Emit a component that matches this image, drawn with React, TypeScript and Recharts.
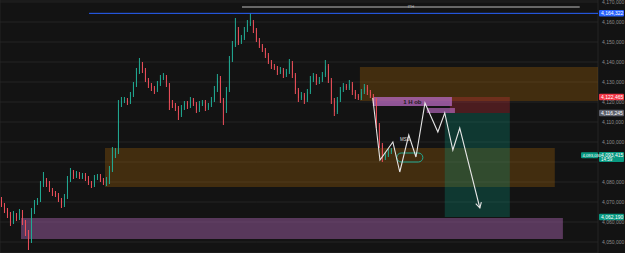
import React from 'react'
import { Bar, CartesianGrid, ComposedChart, Line, ReferenceArea, ReferenceDot, ReferenceLine, XAxis, YAxis } from 'recharts'

// prices are in thousands (4121 = 4,121,000), time is in bars

const firstOpen = 4071

const closes = [
    4068.5, 4066, 4063.5, 4060, 4063.5, 4062, 4065, 4060, 4055, 4051,
    4065, 4069.5, 4071, 4078.5, 4081, 4079, 4076, 4074.5, 4073.5, 4071,
    4068.5, 4072.5, 4081, 4085, 4083, 4084, 4082.5, 4083.5, 4082, 4079.5,
    4078.5, 4082, 4083, 4081, 4079.5, 4081, 4086, 4093.5, 4095, 4119,
    4120.5, 4121, 4120, 4123.5, 4128.5, 4135, 4139, 4136, 4131, 4128.5,
    4127, 4126, 4129, 4132, 4132.5, 4128.5, 4119.5, 4118.5, 4117, 4113.5,
    4117, 4119.5, 4118, 4121, 4119, 4116, 4119, 4120, 4117, 4118.5,
    4121, 4126, 4132, 4121, 4116, 4126, 4141, 4148.5, 4156, 4150,
    4152, 4156, 4159, 4160, 4156, 4151, 4148, 4146, 4143.5, 4140,
    4138, 4137, 4135, 4136, 4133.5, 4135, 4139.5, 4133.5, 4126, 4122,
    4123.5, 4121, 4125, 4131, 4133, 4130, 4131, 4133.5, 4138, 4131,
    4121, 4115, 4121, 4126, 4128, 4127, 4129, 4125, 4123, 4122,
    4125, 4127.5, 4125, 4123, 4121, 4108.5, 4098.5, 4092, 4093.5, 4095,
    4096,
]

const wickUp = [
    1.5, 1, 1, 1.5, 2, 1, 1.5, 1, 1, 1,
    2, 1.5, 1, 2, 4, 1, 1.5, 1, 1, 1,
    1, 1.5, 2, 2, 1, 1.5, 1, 1, 1, 1,
    1, 1.5, 1, 1, 1, 1.5, 2, 4, 2, 2,
    2, 1.5, 1, 1.5, 1.5, 2, 3, 1, 1, 1,
    1, 1, 1.5, 1.5, 2, 1, 1, 1.5, 1, 1,
    1.5, 1, 1, 1.5, 1, 1, 1.5, 1, 1, 1,
    1.5, 2, 2, 1, 1, 1.5, 2, 2, 6, 1.5,
    1.5, 1.5, 2, 4.3, 1, 1, 1, 1, 1, 1,
    1, 1, 1, 1.5, 1, 1.5, 2, 1, 1, 1,
    1.5, 1, 1.5, 2, 1.5, 1, 1.5, 1.5, 3, 1,
    1, 1, 1.5, 1.5, 1.5, 1, 2, 1, 1, 1,
    1.5, 1.5, 1, 1, 1, 1, 1, 1, 1.5, 1.5,
    1,
]

const wickDown = [
    1, 1.5, 1.5, 2, 1, 1.5, 1, 1.5, 2, 5,
    1.5, 1, 1, 1, 1, 1.5, 1, 1.5, 1, 1,
    1.5, 1, 1, 1, 1.5, 1, 1, 1, 1.5, 1,
    1.5, 1, 1, 1, 1, 1.5, 2, 1, 1.5, 1,
    1.5, 1, 1.5, 1, 1, 1, 1, 1.5, 1, 1.5,
    1.5, 2, 1, 1, 1, 1, 3.5, 1.5, 1.5, 2.5,
    1, 1, 1.5, 1, 1, 1.5, 1, 1, 1.5, 1,
    1, 1, 1, 1.5, 7.5, 1.5, 1, 1, 1, 1.5,
    1, 1, 1, 1, 1.5, 1, 1, 1, 1.5, 1,
    1.5, 1, 1.5, 1, 1.5, 1, 1, 1.5, 2, 2,
    1, 2, 1, 1, 1, 1.5, 1, 1, 1, 1.5,
    2, 2, 1, 1, 1, 1, 1, 1.5, 1.5, 1,
    1, 1, 1.5, 1, 1.5, 1.5, 1.5, 2, 1, 1,
    1,
]

// projected path (drawn by hand on the original)
const projT = [123.8, 126.2, 130.5, 132.8, 135.8, 138.2, 141.2, 145.5, 147.8, 150.5, 152.8, 159.5]
const projPrice = [4122, 4091, 4100, 4085, 4103.5, 4092.5, 4119.5, 4105, 4114.5, 4096, 4107, 4067]

// session boundaries (vertical grid)
const sessionTicks = [6.5, 15.5, 22.5, 29.8, 38.8, 47.5, 56.5, 63.8, 74.2, 83.2, 90.5, 98.2, 107.2, 115.8, 124.5, 133.5, 142.2, 151.2, 160.2, 169.2, 178.2, 187.2, 196.2]
const priceTicks = [4050, 4060, 4070, 4080, 4090, 4100, 4110, 4120, 4130, 4140, 4150, 4160, 4170]
// tick labels hidden behind the price tags
const coveredTicks = [4090]

const zones = [
    { id: 'supply', t1: 119.5, t2: 198.9, p1: 4120.5, p2: 4137.5, fill: '#ff9800', op: 0.2 },
    { id: 'demand', t1: 34.5, t2: 184.5, p1: 4077.5, p2: 4097, fill: '#ff9800', op: 0.2 },
    { id: 'low', t1: 6.5, t2: 187.2, p1: 4051.5, p2: 4062, fill: '#b86bbf', op: 0.42 },
    { id: 'stop', t1: 149.5, t2: 169.5, p1: 4114.5, p2: 4122.5, fill: '#f23645', op: 0.25 },
    { id: 'target', t1: 147.8, t2: 169.5, p1: 4062.5, p2: 4114.5, fill: '#089981', op: 0.28 },
    { id: 'ob2', t1: 141.8, t2: 151.2, p1: 4114.5, p2: 4117, fill: '#b065b8', op: 0.7 },
]

const priceTags = [
    { price: 4164.322, text: '4,164,322', color: '#2962ff', sub: '' },
    { price: 4122.5, text: '4,122,465', color: '#f23645', sub: '' },
    { price: 4114.5, text: '4,116,245', color: '#5d606b', sub: '' },
    { price: 4093.4, text: '4,093,415', color: '#089981', sub: '14:59' },
    { price: 4062.5, text: '4,062,190', color: '#089981', sub: '' },
]

const GREEN = '#22ab94'
const RED = '#f0505c'
const FONT = '"Liberation Sans", Arial, sans-serif'

const candles = closes.map((close, i) => {
    const open = i === 0 ? firstOpen : closes[i - 1]
    const high = Math.max(open, close) + wickUp[i]
    const low = Math.min(open, close) - wickDown[i]
    return { t: i, open, close, high, low, range: [low, high] }
})

const projection = projT.map((t, i) => ({ t, p: projPrice[i] }))

const Candle = (props: any) => {
    const { x, y, width, height, payload } = props
    if (!payload || height == null) return <g />
    const top = Math.min(y, y + height)
    const h = Math.abs(height)
    const { open, close, high, low } = payload
    const py = (v: number) => top + ((high - v) / (high - low)) * h
    const color = close >= open ? GREEN : RED
    const cx = x + width / 2
    const bTop = py(Math.max(open, close))
    const bBot = py(Math.min(open, close))
    return (
        <g>
            <line x1={cx} x2={cx} y1={top} y2={top + h} stroke={color} strokeWidth={1} />
            <rect x={x} y={bTop} width={width} height={Math.max(bBot - bTop, 1)} fill={color} />
        </g>
    )
}

const ArrowDot = (props: any) => {
    const { cx, cy, index, points } = props
    if (index !== projT.length - 1 || cx == null) return <g key={`d${index}`} />
    const prev = points && points[index - 1]
    const ang = prev ? Math.atan2(cy - prev.y, cx - prev.x) : 1.3
    const len = 6
    const a1 = ang + Math.PI - 0.5
    const a2 = ang + Math.PI + 0.5
    return (
        <path key={`d${index}`}
            d={`M${cx + len * Math.cos(a1)},${cy + len * Math.sin(a1)} L${cx},${cy} L${cx + len * Math.cos(a2)},${cy + len * Math.sin(a2)}`}
            stroke='#e6e6e6' strokeWidth={1.1} fill='none' />
    )
}

const PriceTick = (props: any) => {
    const { x, y, payload } = props
    if (coveredTicks.includes(payload.value)) return <g />
    return (
        <text x={x} y={y + 1.6} fontSize={5} fill='#8c8c8c' fontFamily={FONT}>
            {(payload.value * 1000).toLocaleString('en-US')}
        </text>
    )
}

const PriceTag = (props: any) => {
    const { viewBox, text, color, sub } = props
    if (!viewBox) return null
    const x = viewBox.x + viewBox.width
    const y = viewBox.y
    const h = sub ? 10 : 6.5
    return (
        <g>
            <rect x={x + 1} y={y - 3.3} width={25} height={h} rx={1} fill={color} />
            <text x={x + 3} y={y + 1.8} fontSize={5} fill='#ffffff' fontFamily={FONT}>{text}</text>
            {sub && <text x={x + 3} y={y + 5.8} fontSize={4.5} fill='#ffffff' fontFamily={FONT}>{sub}</text>}
        </g>
    )
}

const BidTag = (props: any) => {
    const { viewBox } = props
    if (!viewBox) return null
    const x = viewBox.x + viewBox.width
    const y = viewBox.y
    return (
        <g>
            <rect x={x - 17} y={y - 3} width={17} height={6} rx={1} fill='#089981' />
            <text x={x - 15.5} y={y + 1.7} fontSize={4.2} fill='#ffffff' fontFamily={FONT}>4,093,030</text>
        </g>
    )
}

const Pill = (props: any) => {
    const { x, y, width, height } = props
    return <rect x={x} y={y} width={width} height={height} rx={height / 2} ry={height / 2} fill='none' stroke={GREEN} strokeWidth={1} />
}

export default function App() {
    return (
        <div style={{ position: 'fixed', left: 0, top: 0, width: 625, height: 253, background: '#131313', overflow: 'hidden' }}>
            <ComposedChart width={625} height={253} data={candles} margin={{ top: 0, right: 0, bottom: 0, left: 0 }}>
                <CartesianGrid stroke='#2a2a2a' strokeWidth={0.8} />
                <XAxis dataKey='t' type='number' domain={[-0.5, 198.9]} ticks={sessionTicks} allowDataOverflow
                    height={0} tick={false} axisLine={false} tickLine={false} />
                <YAxis orientation='right' width={27} type='number' domain={[4044.5, 4171]} ticks={priceTicks} allowDataOverflow interval={0}
                    axisLine={false} tickLine={false} tickSize={2} tickMargin={2} tick={<PriceTick />} />

                {zones.map(z => (
                    <ReferenceArea key={z.id} x1={z.t1} x2={z.t2} y1={z.p1} y2={z.p2} fill={z.fill} fillOpacity={z.op} stroke='none' ifOverflow='hidden' />
                ))}
                <ReferenceArea x1={123.8} x2={150.2} y1={4118} y2={4122.5} fill='#b065b8' fillOpacity={0.8} stroke='none'
                    label={{ value: '1 H ob', position: 'center', fill: '#1c1c1c', fontSize: 6, fontWeight: 700, fontFamily: FONT }} />

                <Bar dataKey='range' barSize={2.4} isAnimationActive={false} shape={<Candle />} />

                <ReferenceLine segment={[{ x: 29.2, y: 4164.322 }, { x: 198.9, y: 4164.322 }]} stroke='#2962ff' strokeWidth={1} />
                <ReferenceLine segment={[{ x: 80.2, y: 4167.5 }, { x: 192.8, y: 4167.5 }]} stroke='#bdbdbd' strokeWidth={1}
                    label={{ value: 'ITH', position: 'center', fill: '#bdbdbd', fontSize: 4, fontFamily: FONT, dy: -0.5 }} />

                <ReferenceArea x1={131.8} x2={140.5} y1={4090} y2={4094.5} shape={<Pill />} />
                <ReferenceDot x={131.2} y={4101.5} r={0} stroke='none'
                    label={{ value: 'MSS', position: 'right', fill: '#dddddd', fontSize: 4.5, fontFamily: FONT }} />

                <Line data={projection} dataKey='p' type='linear' stroke='#e6e6e6' strokeWidth={1.1} dot={<ArrowDot />} activeDot={false} isAnimationActive={false} />

                {priceTags.map(tag => (
                    <ReferenceLine key={tag.text} y={tag.price} stroke='none' strokeOpacity={0}
                        label={<PriceTag text={tag.text} color={tag.color} sub={tag.sub} />} />
                ))}
                <ReferenceLine y={4093.4} stroke='none' strokeOpacity={0} label={<BidTag />} />
            </ComposedChart>
        </div>
    )
}
